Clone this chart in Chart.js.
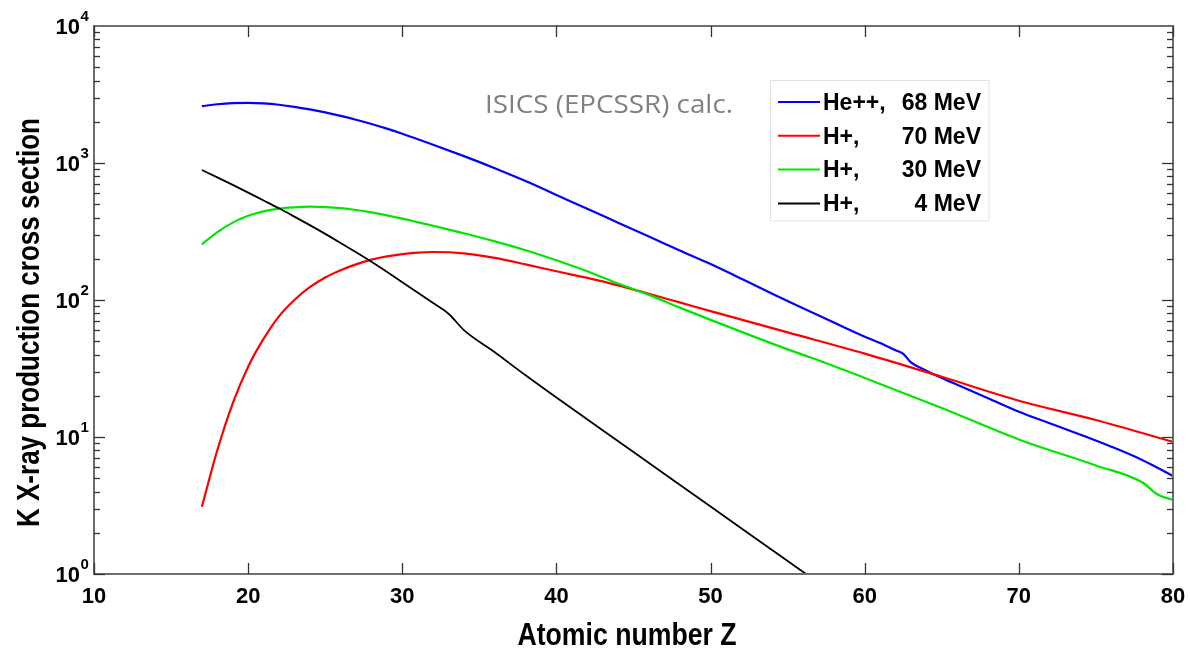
<!DOCTYPE html>
<html>
<head>
<meta charset="utf-8">
<script src="https://cdn.jsdelivr.net/npm/chart.js@4.4.1/dist/chart.umd.min.js"></script>
<style>
  html, body { margin: 0; padding: 0; background: #fff; }
</style>
</head>
<body>
<canvas id="grafico" width="1190" height="652"></canvas>
<script>
// K X-ray production cross section vs Z
const zHe68 = [17, 18, 19, 20, 21, 22, 23, 24, 25, 26, 27, 28, 29, 30, 32, 34, 36, 38, 40, 42, 44, 46, 48, 50, 52, 54, 56, 58, 60, 61, 62, 62.5, 63, 64, 65, 66, 68, 70, 72, 74, 76, 78, 80];
const sHe68 = [2600, 2685, 2735, 2748, 2722, 2661, 2570, 2460, 2339, 2208, 2070, 1928, 1782, 1637, 1360, 1122, 916, 738, 585, 463, 367, 291, 230, 183, 143, 111, 87, 68.4, 54, 48.5, 43, 40.5, 35, 30.5, 27, 24.1, 19.2, 15.3, 12.6, 10.4, 8.5, 6.8, 5.2];

const zH70 = [17, 18, 19, 20, 21, 22, 23, 24, 25, 26, 27, 28, 29, 30, 31, 32, 34, 36, 38, 40, 42, 44, 46, 48, 50, 55, 60, 65, 70, 75, 80];
const sH70 = [3.1, 8.0, 17.6, 32.6, 52, 76, 100, 124, 146, 165, 182, 197, 208, 216, 222, 224, 219, 203, 182, 162, 145, 128, 111, 96, 83, 58, 40.6, 27.5, 18.4, 13.3, 9.2];

const zH30 = [17, 18, 19, 20, 21, 22, 23, 24, 25, 26, 27, 28, 29, 30, 32, 34, 36, 38, 40, 42, 44, 46, 48, 50, 55, 56.5, 60, 65, 70, 75, 78, 79, 80];
const sH30 = [255, 313, 367, 412, 444, 465, 475, 480, 476, 468, 454, 436, 415, 393, 348, 307, 268, 231, 195, 162, 132, 109, 88, 71.6, 43.6, 38, 27, 16.3, 9.6, 6.2, 4.67, 3.8, 3.47];

const zH4 = [17, 18, 19, 20, 21, 22, 23, 24, 25, 26, 27, 28, 30, 32, 33, 34, 36, 38, 40, 45, 50, 55, 56.2];
const sH4 = [889, 785, 692, 608, 533, 467, 406, 352, 304, 261, 223, 190, 135, 95, 79.4, 60.3, 41.5, 28.2, 19.4, 7.76, 3.11, 1.245, 1.0];

const iones = ["He++,", "H+,", "H+,", "H+,"];
const energias = ["68 MeV", "70 MeV", "30 MeV", "4 MeV"];
const colores = ["#0000ff", "#ff0000", "#00e600", "#000000"];

const xTicks = [10, 20, 30, 40, 50, 60, 70, 80];
const yExponentes = [0, 1, 2, 3, 4];

const FUENTE = '"Liberation Sans", Arial, sans-serif';

function puntos(zs, vs) {
    return zs.map((z, i) => ({ x: z, y: vs[i] }));
}

function linea(ctx, x1, y1, x2, y2) {
    ctx.beginPath();
    ctx.moveTo(x1, y1);
    ctx.lineTo(x2, y2);
    ctx.stroke();
}

// text squeezed/stretched to a given width (the reference titles are condensed)
function textoAjustado(ctx, texto, cx, base, ancho, fuente, rot) {
    ctx.save();
    ctx.font = fuente;
    const w = ctx.measureText(texto).width;
    ctx.translate(cx, base);
    if (rot) ctx.rotate(rot);
    ctx.scale(ancho / w, 1);
    ctx.textAlign = "center";
    ctx.textBaseline = "alphabetic";
    ctx.fillText(texto, 0, 0);
    ctx.restore();
}

const decorado = {
    id: "decorado",
    afterDraw(chart) {
        const { ctx, chartArea: a, scales: { x, y } } = chart;
        ctx.save();

        // marco
        ctx.strokeStyle = "#6e6e6e";
        ctx.lineWidth = 2;
        ctx.strokeRect(a.left, a.top, a.right - a.left, a.bottom - a.top);

        // ticks x (abajo y arriba)
        ctx.strokeStyle = "#333";
        ctx.lineWidth = 1.3;
        xTicks.forEach((v) => {
            const px = Math.round(x.getPixelForValue(v)) + 0.5;
            linea(ctx, px, a.bottom, px, a.bottom - 11);
            linea(ctx, px, a.top, px, a.top + 11);
        });

        // ticks y (izquierda y derecha), mayores y menores
        for (let k = 0; k < 4; k++) {
            for (let m = 1; m <= 9; m++) {
                const py = Math.round(y.getPixelForValue(m * Math.pow(10, k))) + 0.5;
                const largo = m === 1 ? 11 : 6;
                linea(ctx, a.left, py, a.left + largo, py);
                linea(ctx, a.right, py, a.right - largo, py);
            }
        }

        // etiquetas x
        ctx.fillStyle = "#000";
        ctx.font = "bold 22px " + FUENTE;
        ctx.textAlign = "center";
        ctx.textBaseline = "alphabetic";
        xTicks.forEach((v) => ctx.fillText(String(v), x.getPixelForValue(v), 603));

        // etiquetas y: 10 con exponente
        yExponentes.forEach((e) => {
            const py = y.getPixelForValue(Math.pow(10, e));
            ctx.font = "bold 22px " + FUENTE;
            ctx.textAlign = "right";
            ctx.fillText("10", 80, py + 8);
            ctx.font = "bold 15px " + FUENTE;
            ctx.textAlign = "left";
            ctx.fillText(String(e), 80.5, py - 5);
        });

        // titulos de ejes
        textoAjustado(ctx, "Atomic number Z", 627, 645, 219, "bold 31px " + FUENTE);
        textoAjustado(ctx, "K X-ray production cross section", 39.3, 322.5, 409, "bold 31px " + FUENTE, -Math.PI / 2);

        // anotacion
        ctx.fillStyle = "#808080";
        textoAjustado(ctx, "ISICS (EPCSSR) calc.", 609, 113, 248, '25px "Open Sans", sans-serif');

        // leyenda
        ctx.fillStyle = "#fff";
        ctx.fillRect(771, 81, 218, 140);
        ctx.strokeStyle = "#e2e2e2";
        ctx.lineWidth = 1;
        ctx.strokeRect(770.5, 80.5, 218.5, 140.5);
        chart.data.datasets.forEach((ds, i) => {
            const fy = 102 + 33.8 * i;
            ctx.strokeStyle = ds.borderColor;
            ctx.lineWidth = 2;
            linea(ctx, 778, fy, 820, fy);
            ctx.fillStyle = "#000";
            ctx.font = "bold 23px " + FUENTE;
            ctx.textAlign = "left";
            ctx.fillText(iones[i], 823, fy + 7.8);
            ctx.textAlign = "right";
            ctx.fillText(energias[i], 981, fy + 7.8);
        });

        ctx.restore();
    },
};

const series = [[zHe68, sHe68], [zH70, sH70], [zH30, sH30], [zH4, sH4]];

new Chart(document.getElementById("grafico"), {
    type: "line",
    data: {
        datasets: series.map(([zs, vs], i) => ({
            label: iones[i] + " " + energias[i],
            data: puntos(zs, vs),
            borderColor: colores[i],
            borderWidth: i === 3 ? 1.8 : 2.2,
            pointRadius: 0,
            cubicInterpolationMode: "monotone",
            order: 3 - i,
        })),
    },
    options: {
        responsive: false,
        devicePixelRatio: 1,
        animation: false,
        layout: { padding: { left: 94, right: 17, top: 26, bottom: 78 } },
        plugins: { legend: { display: false }, tooltip: { enabled: false } },
        scales: {
            x: { type: "linear", min: 10, max: 80, display: false },
            y: { type: "logarithmic", min: 1, max: 10000, display: false },
        },
    },
    plugins: [decorado],
});
</script>
</body>
</html>
